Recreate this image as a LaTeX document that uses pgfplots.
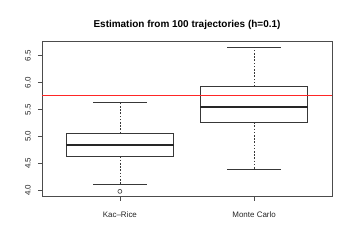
\documentclass[border=0pt]{standalone}
\usepackage[rgb]{xcolor}
\usepackage{fontspec}
\setmainfont{Liberation Sans}
\usepackage{pgfplots}
\pgfplotsset{compat=1.18}
\definecolor{boxc}{rgb}{0.22,0.22,0.22}
\definecolor{rline}{rgb}{1,0.15,0.15}
\pgfplotsset{
  bx/.style={draw=boxc, line width=0.7bp, solid, no marks, line join=miter},
  wh/.style={draw=boxc, line width=0.7bp, dash pattern=on 1.6bp off 1.6bp, no marks},
  md/.style={draw=black!85, line width=1.8bp, no marks},
}
\begin{document}
\begin{tikzpicture}
\useasboundingbox (-42bp,-53.3bp) rectangle (312bp,196.7bp);
\begin{axis}[
  at={(0,0)}, anchor=south west,
  scale only axis, width=290bp, height=155.7bp,
  xmin=0.42, xmax=2.58, ymin=3.881, ymax=6.773,
  axis line style={draw=black!70, line width=0.7bp},
  xtick={1,2}, xticklabels={Kac–Rice, Monte Carlo},
  ytick={4,4.5,5,5.5,6,6.5},
  yticklabel={\pgfmathprintnumber[fixed,fixed zerofill,precision=1]{\tick}},
  /pgf/number format/assume math mode=true,
  tick align=outside, major tick length=4bp,
  tick style={draw=black!70, line width=0.7bp},
  xtick pos=bottom, ytick pos=left,
  ticklabel style={font=\fontsize{8}{9}\selectfont, text=black!85},
  yticklabel style={xshift=-7.4bp, rotate=90, anchor=base, inner sep=0pt},
  xticklabel style={anchor=base, yshift=-16.5bp, inner sep=0pt},
  title={Estimation from 100 trajectories (h=0.1)},
  title style={font=\bfseries\fontsize{10}{12}\selectfont, at={(0.5,1)}, anchor=base, yshift=8bp, inner sep=0pt},
  clip=false,
]
% Kac-Rice
\addplot[bx] coordinates {(0.6,4.625) (1.4,4.625) (1.4,5.06) (0.6,5.06) (0.6,4.625)};
\addplot[md] coordinates {(0.6,4.84) (1.4,4.84)};
\addplot[wh] coordinates {(1,5.06) (1,5.636)};
\addplot[wh] coordinates {(1,4.625) (1,4.11)};
\addplot[bx] coordinates {(0.8,5.636) (1.2,5.636)};
\addplot[bx] coordinates {(0.8,4.11) (1.2,4.11)};
\addplot[only marks, mark=o, mark size=2bp, mark options={draw=boxc, line width=0.6bp}] coordinates {(1,3.98)};
% Monte Carlo
\addplot[bx] coordinates {(1.6,5.264) (2.4,5.264) (2.4,5.926) (1.6,5.926) (1.6,5.264)};
\addplot[md] coordinates {(1.6,5.554) (2.4,5.554)};
\addplot[wh] coordinates {(2,5.926) (2,6.658)};
\addplot[wh] coordinates {(2,5.264) (2,4.39)};
\addplot[bx] coordinates {(1.8,6.658) (2.2,6.658)};
\addplot[bx] coordinates {(1.8,4.39) (2.2,4.39)};
% reference line
\addplot[draw=rline, line width=0.9bp, no marks, solid] coordinates {(0.42,5.758) (2.58,5.758)};
\end{axis}
\end{tikzpicture}
\end{document}
